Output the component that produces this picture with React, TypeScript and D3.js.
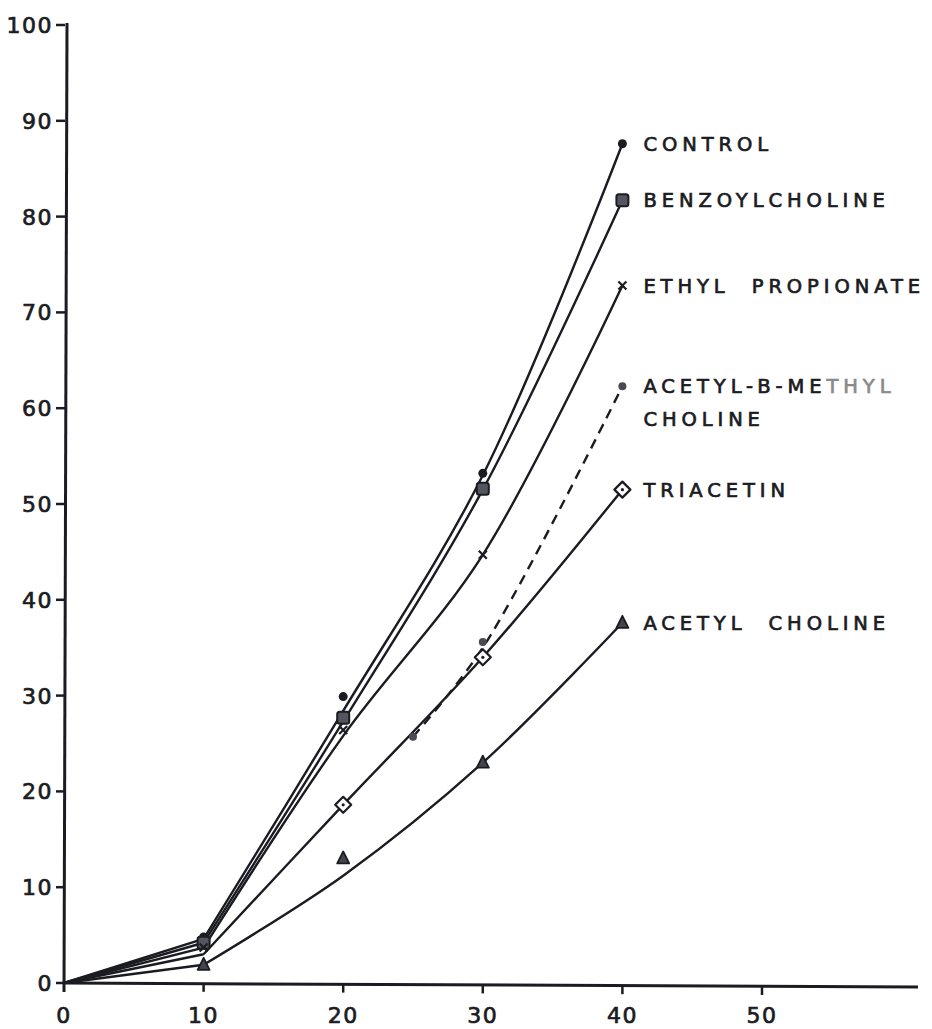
import React from 'react';
import * as d3 from 'd3';

// axis ticks
const xTicks = [0, 10, 20, 30, 40, 50];
const yTicks = [0, 10, 20, 30, 40, 50, 60, 70, 80, 90, 100];

// hand-fitted curve knots (minutes) and per-series values
const knotX = [0, 10, 20, 30, 40];
const controlCurve = [0, 4.6, 28.4, 53.0, 87.6];
const benzoylCurve = [0, 4.2, 27.3, 51.5, 81.7];
const ethylCurve = [0, 3.7, 25.8, 44.7, 72.8];
const triacetinCurve = [0, 3.0, 18.6, 34.0, 51.5];
const acetylCholineCurve = [0, 1.9, 11.2, 23.0, 37.6];
const methylKnotX = [25, 30, 40];
const methylCurve = [25.7, 35.0, 62.3];

// plotted observations
const pointX = [10, 20, 30, 40];
const controlPts = [4.8, 29.9, 53.2, 87.6];
const benzoylPts = [4.2, 27.7, 51.6, 81.7];
const ethylPts = [3.7, 26.4, 44.7, 72.8];
const triacetinX = [20, 30, 40];
const triacetinPts = [18.6, 34.0, 51.5];
const acetylCholinePts = [1.9, 13.0, 23.0, 37.6];
const methylPtsX = [25, 30, 40];
const methylPts = [25.7, 35.6, 62.3];

const labels = [
  { lines: ['CONTROL'], at: 87.6 },
  { lines: ['BENZOYLCHOLINE'], at: 81.7 },
  { lines: ['ETHYL  PROPIONATE'], at: 72.8 },
  { lines: ['ACETYL-B-ME', 'CHOLINE'], at: 62.3, faded: 'THYL' },
  { lines: ['TRIACETIN'], at: 51.5 },
  { lines: ['ACETYL  CHOLINE'], at: 37.6 },
];

const ink = '#1b1b22';
const font = '"DejaVu Sans", "Open Sans", sans-serif';

const x = d3.scaleLinear().domain([0, 50]).range([64, 762]);
const y = d3.scaleLinear().domain([0, 100]).range([983, 25]);

const straight = d3.line<[number, number]>().x(d => x(d[0])).y(d => y(d[1]));
const smooth = d3.line<[number, number]>()
  .x(d => x(d[0]))
  .y(d => y(d[1]))
  .curve(d3.curveCatmullRom.alpha(0.5));

const zip = (xs: number[], ys: number[]) => xs.map((v, i) => [v, ys[i]] as [number, number]);

// straight run from the origin to 10 min, then a smooth hand-drawn style curve
const curvePath = (xs: number[], ys: number[]) => {
  const pts = zip(xs, ys);
  return (straight(pts.slice(0, 2)) || '') + (smooth(pts.slice(1)) || '');
};

const Dot = ({ cx, cy, r = 4.5, fill = ink }: any) => <circle cx={cx} cy={cy} r={r} fill={fill} />;

const Square = ({ cx, cy }: any) => (
  <rect x={cx - 6} y={cy - 6} width={12} height={12} rx={2.5} fill="#55555f" stroke={ink} strokeWidth={2} />
);

const Cross = ({ cx, cy }: any) => (
  <path d={`M${cx - 4},${cy - 4}L${cx + 4},${cy + 4}M${cx + 4},${cy - 4}L${cx - 4},${cy + 4}`} stroke={ink} strokeWidth={2.2} />
);

const Diamond = ({ cx, cy }: any) => (
  <g>
    <path d={`M${cx},${cy - 8}L${cx + 8},${cy}L${cx},${cy + 8}L${cx - 8},${cy}Z`} fill="white" stroke={ink} strokeWidth={2.2} strokeLinejoin="round" />
    <circle cx={cx} cy={cy} r={1.6} fill={ink} />
  </g>
);

const Triangle = ({ cx, cy }: any) => (
  <path d={`M${cx},${cy - 7}L${cx + 6},${cy + 5}L${cx - 6},${cy + 5}Z`} fill="#44444c" stroke={ink} strokeWidth={1.8} strokeLinejoin="round" />
);

export default function App() {
  const x0 = x(0);
  const y0 = y(0);
  const tickText = { fontFamily: font, fontSize: 22, letterSpacing: 1.5, fill: ink, stroke: ink, strokeWidth: 0.7 };
  return (
    <div style={{ position: 'absolute', left: 0, top: 0 }}>
      <svg width={932} height={1029} style={{ display: 'block', background: 'white' }}>
        {/* axes */}
        <line x1={x0 + 3} y1={y(100) - 2} x2={x0} y2={y0 + 9} stroke={ink} strokeWidth={3} />
        <line x1={x0} y1={y0} x2={918} y2={y0 + 4} stroke={ink} strokeWidth={3} />
        {yTicks.map(t => (
          <g key={'y' + t}>
            <line x1={x0 - 8} x2={x0 + 1} y1={y(t)} y2={y(t)} stroke={ink} strokeWidth={2.5} />
            <text x={x0 - 11} y={y(t)} dy="0.36em" textAnchor="end" {...tickText}>{t}</text>
          </g>
        ))}
        {xTicks.filter(t => t > 0).map(t => (
          <line key={'xt' + t} x1={x(t)} x2={x(t)} y1={y0 + t * 0.08} y2={y0 + 8 + t * 0.08} stroke={ink} strokeWidth={2.5} />
        ))}
        {xTicks.map(t => (
          <text key={'x' + t} x={x(t)} y={1015} dy="0.36em" textAnchor="middle" {...tickText}>{t}</text>
        ))}

        {/* curves */}
        <g fill="none" stroke={ink} strokeWidth={2.4}>
          <path d={curvePath(knotX, controlCurve)} />
          <path d={curvePath(knotX, benzoylCurve)} />
          <path d={curvePath(knotX, ethylCurve)} />
          <path d={curvePath(knotX, triacetinCurve)} />
          <path d={curvePath(knotX, acetylCholineCurve)} />
          <path d={smooth(zip(methylKnotX, methylCurve)) || ''} strokeDasharray="10 7" />
        </g>

        {/* markers */}
        {zip(pointX, controlPts).map((p, i) => <Dot key={'c' + i} cx={x(p[0])} cy={y(p[1])} />)}
        {zip(pointX, benzoylPts).map((p, i) => <Square key={'b' + i} cx={x(p[0])} cy={y(p[1])} />)}
        {zip(pointX, ethylPts).map((p, i) => <Cross key={'e' + i} cx={x(p[0])} cy={y(p[1])} />)}
        {zip(methylPtsX, methylPts).map((p, i) => <Dot key={'m' + i} cx={x(p[0])} cy={y(p[1])} r={4} fill="#4a4a52" />)}
        {zip(triacetinX, triacetinPts).map((p, i) => <Diamond key={'t' + i} cx={x(p[0])} cy={y(p[1])} />)}
        {zip(pointX, acetylCholinePts).map((p, i) => <Triangle key={'a' + i} cx={x(p[0])} cy={y(p[1])} />)}

        {/* series labels */}
        {labels.map((l, i) => (
          <text key={'l' + i} x={x(40) + 21} y={y(l.at)} dy="0.36em" fontFamily={font} fontSize={19.5} letterSpacing={4.9} fill={ink} stroke={ink} strokeWidth={0.7} style={{ whiteSpace: 'pre' }}>
            <tspan>{l.lines[0]}</tspan>
            {l.faded ? <tspan fill="#8a8a8a" stroke="#8a8a8a">{l.faded}</tspan> : null}
            {l.lines.slice(1).map((s, j) => (
              <tspan key={j} x={x(40) + 21} dy="1.7em">{s}</tspan>
            ))}
          </text>
        ))}
      </svg>
    </div>
  );
}
